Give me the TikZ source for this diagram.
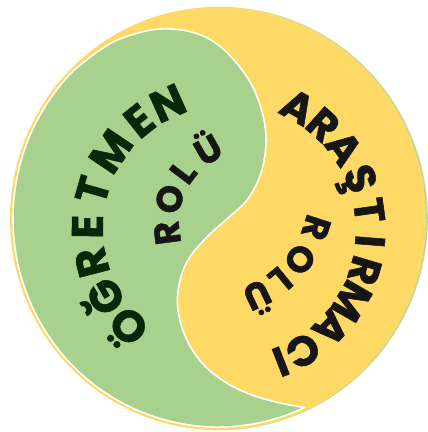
\documentclass[tikz,border=0pt]{standalone}
\usepackage{fontspec}
\setmainfont{Poppins}
\definecolor{gr}{HTML}{A9D18E}
\definecolor{ye}{HTML}{FFD966}
\definecolor{dkg}{HTML}{082608}
\definecolor{ink}{HTML}{161616}
\newcommand\bigletters{\fontsize{44pt}{44pt}\selectfont\bfseries\addfontfeatures{FakeBold=1.2}}
\newcommand\midletters{\fontsize{42pt}{42pt}\selectfont\bfseries\addfontfeatures{FakeBold=1.2}}
\newcommand\smallletters{\fontsize{36pt}{36pt}\selectfont\bfseries\addfontfeatures{FakeBold=1.2}}
\begin{document}
\begin{tikzpicture}[x=1pt,y=1pt,
  big/.style={font=\bigletters, inner sep=0pt, anchor=center, text depth=0pt, text height=30.8pt},
  mid/.style={font=\midletters, inner sep=0pt, anchor=center, text depth=0pt, text height=29.4pt},
  small/.style={font=\smallletters, inner sep=0pt, anchor=center, text depth=0pt, text height=25.2pt},
  rim/.style={draw=white, line width=1.6pt, line join=round}
]
\useasboundingbox[fill=white] (0,0) rectangle (428,432);
% outer discs
\fill[gr!80] (219.8,213.5) ellipse[x radius=208, y radius=211.5];
\fill[ye] (218,213.5) ellipse[x radius=208, y radius=211.5];
% green yin region
\filldraw[fill=gr, rim] (304.6,24.5)
  arc[start angle=-65, end angle=-225, x radius=205, y radius=208.5]
  -- plot[smooth, tension=0.6] coordinates {(73,361) (100,382) (125,395) (160,403) (195,399) (222,384) (247,355) (261,324) (266,292) (261,259) (247,232) (228,214) (206,194) (188,172) (179,147) (178,122) (186,94) (202,69) (225,50) (252,37) (280,29) (304.6,24.5)}
  -- cycle;
% centres of the text arcs
\coordinate (Cg) at (224.5,204);
\coordinate (Ca) at (229.5,201.7);
\coordinate (Cr) at (249.4,210);
\coordinate (Cy) at (208.6,239.1);
% ÖĞRETMEN
\foreach \ch/\a [count=\i] in {Ö/225.7, Ğ/210, R/194.5, E/179.5, T/164, M/146, E/128.5, N/114.4}
  \node[big, text=dkg, rotate=\a-90] (og\i) at ([shift={(\a:137)}]Cg) {\ch};
% green ROLÜ
\foreach \ch/\a [count=\i] in {R/187.6, O/164, L/143, Ü/119.7}
  \node[small, text=ink, rotate=\a-90] (rg\i) at ([shift={(\a:83)}]Cr) {\ch};
% ARAŞTIRMACI
\foreach \ch/\a [count=\i] in {A/61, R/48.4, A/35.7, Ş/21.5, T/8.1, I/-4.5, R/-16.6, M/-30.1, A/-44, C/-58.7, I/-68.7}
  \node[mid, text=ink, rotate=\a-90] (ar\i) at ([shift={(\a:141)}]Ca) {\ch};
% yellow ROLÜ
\foreach \ch/\a [count=\i] in {R/-18, O/-36, L/-50.5, Ü/-64.6}
  \node[small, text=ink, rotate=\a-90] (ry\i) at ([shift={(\a:113)}]Cy) {\ch};
\end{tikzpicture}
\end{document}
